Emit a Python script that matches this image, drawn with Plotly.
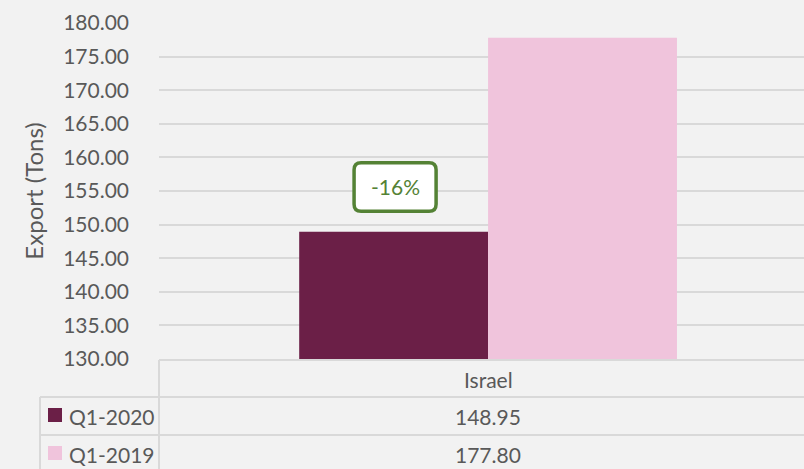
import plotly.graph_objects as go

categories = ["Israel"]
series_names = ["Q1-2020", "Q1-2019"]
series_values = [[148.95], [177.80]]
colors = ["#6b1f47", "#f0c4dc"]
y_ticks = [130, 135, 140, 145, 150, 155, 160, 165, 170, 175, 180]

W, H = 804, 469
L, R, T, B = 159, 0, 23, 110
pw, ph = W - L - R, H - T - B
FONT = "Lato"
FS = 21
TXT = "#595959"
GRID = "#d9d9d9"

def px_x(p):
    return (p - L) / pw

def px_y(p):
    return (H - B - p) / ph

fig = go.Figure()
for name, vals, c in zip(series_names, series_values, colors):
    fig.add_trace(go.Bar(x=[0], y=vals, name=name, marker_color=c,
                         marker_line_width=0, showlegend=False, hoverinfo="skip"))

fig.update_layout(
    width=W, height=H, autosize=False,
    margin=dict(l=L, r=R, t=T, b=B, pad=0, autoexpand=False),
    paper_bgcolor="#f2f2f2", plot_bgcolor="#f2f2f2",
    barmode="group", bargap=0.426, bargroupgap=0,
    font=dict(family=FONT, color=TXT, size=FS),
)
fig.update_xaxes(range=[-0.5, 0.48], showticklabels=False, showgrid=False,
                 zeroline=False, showline=False, fixedrange=True, automargin=False)
fig.update_yaxes(range=[130, 180], tickvals=y_ticks,
                 ticktext=[f"{v:.2f}" for v in y_ticks],
                 showgrid=True, gridcolor=GRID, gridwidth=1.5,
                 zeroline=False, showline=False, ticks="", automargin=False,
                 ticklabelstandoff=29, fixedrange=True,
                 tickfont=dict(size=FS, color=TXT, family=FONT),
                 title=dict(text="Export (Tons)", standoff=12,
                            font=dict(size=24, color=TXT, family=FONT)))

# change annotation
a, b = series_values[0][0], series_values[1][0]
pct = (a - b) / b * 100
x0, x1 = -0.2036, -0.079
y0, y1 = 152.0, 159.2
rx, ry = 7 / 658, 7 / 6.72
path = (f"M {x0+rx},{y1} L {x1-rx},{y1} Q {x1},{y1} {x1},{y1-ry} "
        f"L {x1},{y0+ry} Q {x1},{y0} {x1-rx},{y0} L {x0+rx},{y0} "
        f"Q {x0},{y0} {x0},{y0+ry} L {x0},{y1-ry} Q {x0},{y1} {x0+rx},{y1} Z")
fig.add_shape(type="path", path=path, xref="x", yref="y",
              fillcolor="white", line=dict(color="#548235", width=3.5))
fig.add_annotation(x=(x0 + x1) / 2, y=(y0 + y1) / 2, xref="x", yref="y",
                   text=f"{pct:.0f}%", showarrow=False,
                   xanchor="center", yanchor="middle",
                   font=dict(size=FS, color="#548235", family=FONT))

# data table lines
line = dict(color=GRID, width=2)
for yp in [360, 397, 435]:
    xs = 159 if yp == 360 else 40
    fig.add_shape(type="line", xref="paper", yref="paper",
                  x0=px_x(xs), x1=px_x(W + 5), y0=px_y(yp), y1=px_y(yp), line=line)
fig.add_shape(type="line", xref="paper", yref="paper",
              x0=px_x(159), x1=px_x(159), y0=px_y(360), y1=px_y(H + 5), line=line)
fig.add_shape(type="line", xref="paper", yref="paper",
              x0=px_x(40), x1=px_x(40), y0=px_y(397), y1=px_y(H + 5), line=line)

# category label
for i, cat in enumerate(categories):
    fig.add_annotation(x=i, y=px_y(379), xref="x", yref="paper", text=cat,
                       showarrow=False, xanchor="center", yanchor="middle",
                       font=dict(size=FS, color=TXT, family=FONT))

# table rows
row_centers = [416, 454]
for name, vals, c, yc in zip(series_names, series_values, colors, row_centers):
    fig.add_shape(type="rect", xref="paper", yref="paper",
                  x0=px_x(48), x1=px_x(62), y0=px_y(yc - 8), y1=px_y(yc + 6),
                  fillcolor=c, line=dict(width=0))
    fig.add_annotation(x=px_x(67), y=px_y(yc), xref="paper", yref="paper",
                       text=name, showarrow=False, xanchor="left", yanchor="middle",
                       font=dict(size=FS, color=TXT, family=FONT))
    for i, v in enumerate(vals):
        fig.add_annotation(x=i, y=px_y(yc), xref="x", yref="paper",
                           text=f"{v:.2f}", showarrow=False,
                           xanchor="center", yanchor="middle",
                           font=dict(size=FS, color=TXT, family=FONT))

fig.write_html("out.html", config={"displayModeBar": False},
               post_script="document.body.style.margin='0';document.body.style.overflow='hidden';")
